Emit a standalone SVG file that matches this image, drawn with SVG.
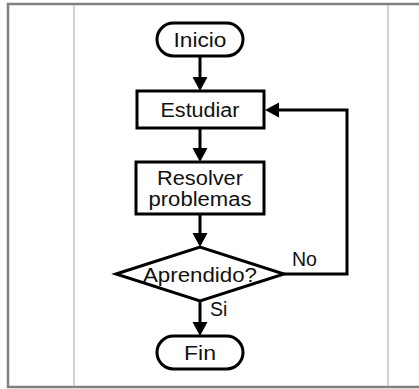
<svg xmlns="http://www.w3.org/2000/svg" width="419" height="389" viewBox="0 0 419 389">
<style>
.frame{fill:none;stroke:#808080;stroke-width:2.5}
.col{stroke:#c4c4c4;stroke-width:1.5}
.node{fill:#fff;stroke:#000;stroke-width:3}
.t{font-family:"Liberation Sans",Arial,sans-serif;font-size:20px;fill:#111;text-anchor:middle}
.lbl{font-family:"Liberation Sans",Arial,sans-serif;font-size:19.5px;fill:#111}
.edge{fill:none;stroke:#000;stroke-width:3;stroke-linejoin:miter}
</style>
<defs>
<marker id="ah" markerUnits="userSpaceOnUse" markerWidth="16" markerHeight="16" refX="0" refY="7.5" orient="auto" overflow="visible">
<path d="M0,0 L14,7.5 L0,15 Z" fill="#000"/>
</marker>
</defs>
<rect width="419" height="389" fill="#fff"/>
<g id="frame">
<rect class="frame" x="8" y="4" width="420" height="383"/>
<line class="col" x1="74" y1="5" x2="74" y2="386"/>
<line class="col" x1="388" y1="5" x2="388" y2="386"/>
</g>
<g id="connectors">
<path class="edge" d="M200,56 V77" marker-end="url(#ah)"/>
<path class="edge" d="M200,128 V148" marker-end="url(#ah)"/>
<path class="edge" d="M200,214 V233" marker-end="url(#ah)"/>
<path class="edge" d="M200,301 V322" marker-end="url(#ah)"/>
<path class="edge" d="M284,274 H347 V110 H279" marker-end="url(#ah)"/>
<text class="lbl" x="292" y="266">No</text>
<text class="lbl" x="210" y="316">Si</text>
</g>
<g id="inicio">
<rect class="node" x="157" y="23" width="86" height="33" rx="16.5"/>
<text class="t" x="200" y="46.5" textLength="53" lengthAdjust="spacingAndGlyphs">Inicio</text>
</g>
<g id="estudiar">
<rect class="node" x="137" y="91" width="127" height="37"/>
<text class="t" x="200" y="117" textLength="79" lengthAdjust="spacingAndGlyphs">Estudiar</text>
</g>
<g id="resolver">
<rect class="node" x="136" y="162" width="128" height="52"/>
<text class="t" x="200" y="185" textLength="86" lengthAdjust="spacingAndGlyphs">Resolver</text>
<text class="t" x="200" y="205.5" textLength="103" lengthAdjust="spacingAndGlyphs">problemas</text>
</g>
<g id="aprendido">
<polygon class="node" points="116,274 200,247 284,274 200,301"/>
<text class="t" x="200" y="281.5" textLength="114" lengthAdjust="spacingAndGlyphs">Aprendido?</text>
</g>
<g id="fin">
<rect class="node" x="157" y="336" width="86" height="33" rx="16.5"/>
<text class="t" x="200" y="359.5" textLength="32" lengthAdjust="spacingAndGlyphs">Fin</text>
</g>
</svg>
